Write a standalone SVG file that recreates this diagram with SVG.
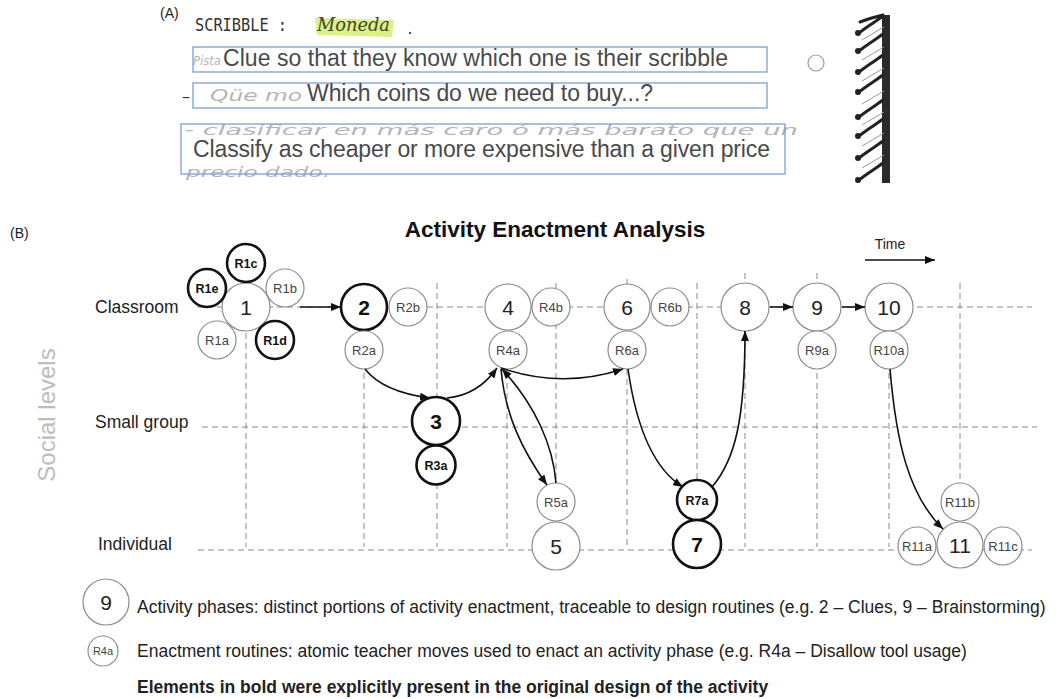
<svg xmlns="http://www.w3.org/2000/svg" width="1056" height="699" viewBox="0 0 1056 699">
<style>
.t{font-family:"Liberation Sans",Arial,Helvetica,sans-serif}
.grid{stroke:#8a8a8a;stroke-width:1;stroke-dasharray:6 4;fill:none}
.ph{fill:#fff;stroke:#8c8c8c;stroke-width:1.2}
.phb{fill:#fff;stroke:#111;stroke-width:2.6}
.num{font-size:21px;text-anchor:middle;fill:#222}
.numb{font-size:21px;font-weight:bold;text-anchor:middle;fill:#111}
.rl{font-size:13px;text-anchor:middle;fill:#444}
.rlb{font-size:12.5px;font-weight:bold;text-anchor:middle;fill:#111}
.conn{fill:none;stroke:#111;stroke-width:1.6;marker-end:url(#ah)}
.box{fill:none;stroke:#7b9fd6;stroke-width:1.3}
.hw{fill:#b5b5b5;font-family:"DejaVu Sans",sans-serif;font-style:italic}
.typed{font-size:23px;fill:#4a4a4a}
.lvl{font-size:17.5px;fill:#222}
.leg{font-size:17.5px;fill:#222}
.loop{fill:none;stroke:#222;stroke-width:3;stroke-linecap:round}
.loopg{fill:none;stroke:#9a9a9a;stroke-width:1}
</style>
<defs>
<marker id="ah" viewBox="0 0 10 8" refX="10" refY="4" markerWidth="10" markerHeight="8" markerUnits="userSpaceOnUse" orient="auto"><path d="M0,0L10,4L0,8z" fill="#111"/></marker>
</defs>
<rect width="1056" height="699" fill="#fff"/>

<!-- (A) scanned note -->
<g id="partA">
<text class="t" x="160" y="18" font-size="14" fill="#222">(A)</text>
<text x="195" y="31" font-family="DejaVu Sans Mono,monospace" font-size="17" fill="#333" textLength="92" lengthAdjust="spacingAndGlyphs">SCRIBBLE :</text>
<path d="M315,18 L394,20 L392,37 L317,35 Z" fill="#dcef88"/>
<text x="317" y="31" font-family="DejaVu Serif,serif" font-style="italic" font-size="18" fill="#3e4a22" textLength="73" lengthAdjust="spacingAndGlyphs">Moneda</text>
<circle cx="410" cy="33" r="1.2" fill="#555"/>
<text class="hw" x="193" y="65" font-size="13" textLength="28" lengthAdjust="spacingAndGlyphs">Pista</text>
<text class="hw" x="210" y="101" font-size="16" textLength="92" lengthAdjust="spacingAndGlyphs">Qüe mo</text>
<text x="182" y="102" font-family="DejaVu Sans,sans-serif" font-size="16" fill="#333">–</text>
<text class="hw" x="184" y="135" font-size="14" textLength="614" lengthAdjust="spacingAndGlyphs">- clasificar en más caro ó más barato que un</text>
<text class="hw" x="186" y="177" font-size="14" textLength="144" lengthAdjust="spacingAndGlyphs">precio dado.</text>
<rect class="box" x="193" y="47" width="574" height="25"/>
<rect class="box" x="193" y="83" width="574" height="25"/>
<rect class="box" x="181" y="124" width="604" height="50"/>
<text class="t typed" x="223" y="66" textLength="505" lengthAdjust="spacing">Clue so that they know which one is their scribble</text>
<text class="t typed" x="307" y="101" textLength="346" lengthAdjust="spacing">Which coins do we need to buy...?</text>
<text class="t typed" x="193" y="157" textLength="577" lengthAdjust="spacing">Classify as cheaper or more expensive than a given price</text>
<circle cx="816" cy="63" r="8" fill="none" stroke="#9a9a9a" stroke-width="1.2"/>
<g id="spiral">
<rect x="882" y="15" width="8" height="168" fill="#2a2a2a"/>
<path class="loop" d="M860,22 C868,19 876,17 883,15"/>
<path class="loop" d="M859,33 C866,27 875,22 883,16"/>
<path class="loop" d="M859,51 C866,45 875,40 883,34"/>
<path class="loop" d="M859,72 C866,66 875,61 883,55"/>
<path class="loop" d="M859,92 C866,86 875,81 883,75"/>
<path class="loop" d="M859,117 C866,111 875,106 883,100"/>
<path class="loop" d="M859,136 C866,130 875,125 883,119"/>
<path class="loop" d="M859,158 C866,152 875,147 883,141"/>
<path class="loop" d="M859,180 C866,174 875,169 883,163"/>
<path class="loopg" d="M862,40 L884,27 M862,60 L884,47 M862,81 L884,68 M862,104 L884,91 M862,125 L884,112 M862,146 L884,133 M862,168 L884,155"/>
<g fill="#222"><circle cx="858" cy="33" r="3"/><circle cx="858" cy="51" r="3"/><circle cx="858" cy="72" r="3"/><circle cx="858" cy="92" r="3"/><circle cx="858" cy="117" r="3"/><circle cx="858" cy="136" r="3"/><circle cx="858" cy="158" r="3"/><circle cx="858" cy="180" r="3"/></g>
</g>
</g>

<!-- (B) labels -->
<text class="t" x="10" y="238" font-size="14" fill="#222">(B)</text>
<text class="t" x="555" y="237" font-size="22.5" font-weight="bold" text-anchor="middle" fill="#111">Activity Enactment Analysis</text>
<text class="t" x="890" y="249" font-size="14" text-anchor="middle" fill="#222">Time</text>
<line x1="865" y1="260" x2="935" y2="260" stroke="#111" stroke-width="1.5" marker-end="url(#ah)"/>
<text class="t" transform="translate(55,415) rotate(-90)" x="0" y="0" font-size="24" text-anchor="middle" fill="#bdbdbd">Social levels</text>
<text class="t lvl" x="95" y="313">Classroom</text>
<text class="t lvl" x="95" y="428">Small group</text>
<text class="t lvl" x="98" y="550">Individual</text>

<!-- grid -->
<g id="grid" class="grid">
<line x1="197" y1="307" x2="1032" y2="307"/>
<line x1="202" y1="427" x2="1037" y2="427"/>
<line x1="198" y1="550" x2="1032" y2="550"/>
<line x1="246" y1="283" x2="246" y2="547"/>
<line x1="364" y1="283" x2="364" y2="547"/>
<line x1="437" y1="283" x2="437" y2="547"/>
<line x1="507" y1="283" x2="507" y2="547"/>
<line x1="556" y1="283" x2="556" y2="547"/>
<line x1="627" y1="279" x2="627" y2="547"/>
<line x1="697" y1="283" x2="697" y2="547"/>
<line x1="745" y1="273" x2="745" y2="547"/>
<line x1="817" y1="273" x2="817" y2="547"/>
<line x1="889" y1="283" x2="889" y2="547"/>
<line x1="960" y1="283" x2="960" y2="547"/>
</g>

<!-- nodes -->
<g id="n1"><circle class="ph" cx="246" cy="307" r="24"/><text class="t num" x="246" y="314.5">1</text></g>
<g id="r1c"><circle class="phb" cx="246" cy="263" r="19"/><text class="t rlb" x="246" y="267.5">R1c</text></g>
<g id="r1e"><circle class="phb" cx="207" cy="288" r="19"/><text class="t rlb" x="207" y="292.5">R1e</text></g>
<g id="r1b"><circle class="ph" cx="285" cy="288" r="19"/><text class="t rl" x="285" y="292.5">R1b</text></g>
<g id="r1a"><circle class="ph" cx="217" cy="340" r="19"/><text class="t rl" x="217" y="344.5">R1a</text></g>
<g id="r1d"><circle class="phb" cx="275" cy="340" r="19"/><text class="t rlb" x="275" y="344.5">R1d</text></g>
<g id="n2"><circle class="phb" cx="364" cy="307" r="23"/><text class="t numb" x="364" y="314.5">2</text></g>
<g id="r2b"><circle class="ph" cx="408" cy="307" r="19"/><text class="t rl" x="408" y="311.5">R2b</text></g>
<g id="r2a"><circle class="ph" cx="364" cy="350" r="19"/><text class="t rl" x="364" y="354.5">R2a</text></g>
<g id="n3"><circle class="phb" cx="436" cy="421" r="24"/><text class="t numb" x="436" y="428.5">3</text></g>
<g id="r3a"><circle class="phb" cx="436" cy="465" r="19.5"/><text class="t rlb" x="436" y="469.5">R3a</text></g>
<g id="n4"><circle class="ph" cx="508" cy="307" r="23"/><text class="t num" x="508" y="314.5">4</text></g>
<g id="r4b"><circle class="ph" cx="551" cy="307" r="19"/><text class="t rl" x="551" y="311.5">R4b</text></g>
<g id="r4a"><circle class="ph" cx="508" cy="350" r="19"/><text class="t rl" x="508" y="354.5">R4a</text></g>
<g id="r5a"><circle class="ph" cx="556" cy="502" r="19"/><text class="t rl" x="556" y="506.5">R5a</text></g>
<g id="n5"><circle class="ph" cx="556" cy="546" r="24"/><text class="t num" x="556" y="553.5">5</text></g>
<g id="n6"><circle class="ph" cx="627" cy="307" r="23"/><text class="t num" x="627" y="314.5">6</text></g>
<g id="r6b"><circle class="ph" cx="670" cy="307" r="19"/><text class="t rl" x="670" y="311.5">R6b</text></g>
<g id="r6a"><circle class="ph" cx="627" cy="350" r="19"/><text class="t rl" x="627" y="354.5">R6a</text></g>
<g id="r7a"><circle class="phb" cx="697" cy="500" r="20"/><text class="t rlb" x="697" y="504.5">R7a</text></g>
<g id="n7"><circle class="phb" cx="697" cy="544" r="24"/><text class="t numb" x="697" y="551.5">7</text></g>
<g id="n8"><circle class="ph" cx="745" cy="307" r="24"/><text class="t num" x="745" y="314.5">8</text></g>
<g id="n9"><circle class="ph" cx="817" cy="307" r="24"/><text class="t num" x="817" y="314.5">9</text></g>
<g id="r9a"><circle class="ph" cx="817" cy="350" r="19"/><text class="t rl" x="817" y="354.5">R9a</text></g>
<g id="n10"><circle class="ph" cx="889" cy="307" r="24"/><text class="t num" x="889" y="314.5">10</text></g>
<g id="r10a"><circle class="ph" cx="889" cy="350" r="19"/><text class="t rl" x="889" y="354.5">R10a</text></g>
<g id="r11b"><circle class="ph" cx="960" cy="502" r="19"/><text class="t rl" x="960" y="506.5">R11b</text></g>
<g id="n11"><circle class="ph" cx="960" cy="545" r="23"/><text class="t num" x="960" y="552.5">11</text></g>
<g id="r11a"><circle class="ph" cx="917" cy="546" r="19"/><text class="t rl" x="917" y="550.5">R11a</text></g>
<g id="r11c"><circle class="ph" cx="1003" cy="546" r="19"/><text class="t rl" x="1003" y="550.5">R11c</text></g>

<!-- connectors -->
<g id="connectors">
<path class="conn" d="M300,307 L341,307"/>
<path class="conn" d="M365,369 Q383,392 430,398"/>
<path class="conn" d="M447,398 Q478,395 497,368"/>
<path class="conn" d="M501,368 Q562,389 623,369"/>
<path class="conn" d="M501,369 C505,415 522,450 547,485"/>
<path class="conn" d="M556,483 C553,445 535,405 502,369"/>
<path class="conn" d="M628,369 C636,425 652,468 683,487"/>
<path class="conn" d="M712,487 C735,460 745,420 745,331"/>
<path class="conn" d="M770,307 L793,307"/>
<path class="conn" d="M842,307 L865,307"/>
<path class="conn" d="M890,369 C896,440 908,495 943,529"/>
</g>

<!-- legend -->
<g id="legend">
<g id="leg-phase"><circle class="ph" cx="106" cy="602" r="23"/><text class="t num" x="106" y="609.5">9</text></g>
<text class="t leg" x="137" y="613">Activity phases: distinct portions of activity enactment, traceable to design routines (e.g. 2 – Clues, 9 – Brainstorming)</text>
<g id="leg-routine"><circle class="ph" cx="103" cy="651" r="15"/><text class="t" x="103" y="655" font-size="11" text-anchor="middle" fill="#444">R4a</text></g>
<text class="t leg" x="137" y="657">Enactment routines: atomic teacher moves used to enact an activity phase (e.g. R4a – Disallow tool usage)</text>
<text class="t leg" x="137" y="693" font-weight="bold" fill="#111">Elements in bold were explicitly present in the original design of the activity</text>
</g>
</svg>
